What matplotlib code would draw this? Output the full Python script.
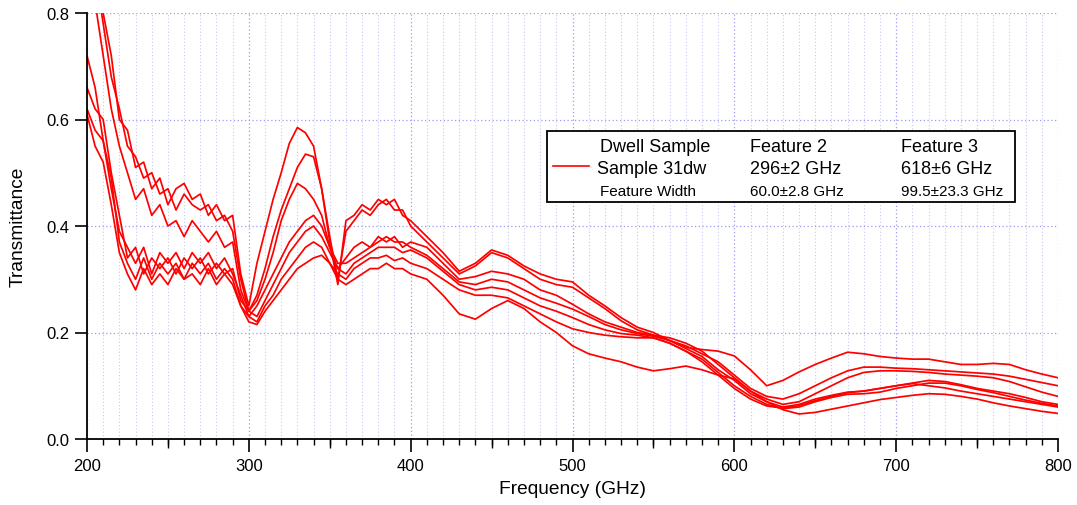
import numpy as np
import matplotlib
matplotlib.use('Agg')
import matplotlib.pyplot as plt
from matplotlib.ticker import MultipleLocator, FormatStrFormatter
from matplotlib.patches import Rectangle
from matplotlib.lines import Line2D

plt.rcParams['font.family'] = ['Liberation Sans', 'DejaVu Sans']

# Frequency grid (GHz): 5 GHz steps up to 400, then 10 GHz steps
freq = np.concatenate([np.arange(200, 401, 5), np.arange(410, 801, 10)])

# Transmittance traces (7 runs of sample 31dw)
run1 = [1.05, 0.93, 0.80, 0.72, 0.60, 0.58, 0.51, 0.52, 0.47, 0.49, 0.44, 0.47, 0.48, 0.45, 0.46, 0.42, 0.44,
        0.41, 0.42, 0.31, 0.25, 0.33, 0.39, 0.45, 0.50, 0.555, 0.585, 0.575, 0.55, 0.47, 0.37, 0.29, 0.41, 0.42,
        0.44, 0.43, 0.45, 0.44, 0.45, 0.42, 0.41,
        0.38, 0.35, 0.315, 0.33, 0.355, 0.345, 0.325, 0.31, 0.30, 0.295, 0.27, 0.25, 0.228, 0.21, 0.20, 0.185,
        0.172, 0.168, 0.165, 0.156, 0.13, 0.10, 0.11, 0.126, 0.14, 0.152, 0.163, 0.16, 0.155, 0.152, 0.15, 0.15,
        0.145, 0.14, 0.14, 0.142, 0.14, 0.13, 0.122, 0.115]
run2 = [0.98, 0.88, 0.78, 0.68, 0.62, 0.55, 0.53, 0.49, 0.50, 0.46, 0.47, 0.43, 0.46, 0.44, 0.43, 0.44, 0.41,
        0.42, 0.39, 0.30, 0.24, 0.27, 0.32, 0.38, 0.43, 0.47, 0.51, 0.535, 0.53, 0.47, 0.38, 0.30, 0.39, 0.41,
        0.43, 0.42, 0.44, 0.45, 0.43, 0.43, 0.40,
        0.37, 0.34, 0.31, 0.325, 0.35, 0.34, 0.32, 0.30, 0.29, 0.285, 0.265, 0.245, 0.222, 0.205, 0.195, 0.185,
        0.175, 0.16, 0.145, 0.12, 0.095, 0.08, 0.075, 0.085, 0.10, 0.115, 0.128, 0.135, 0.135, 0.133, 0.132, 0.13,
        0.128, 0.126, 0.124, 0.122, 0.118, 0.112, 0.106, 0.10]
run3 = [0.90, 0.82, 0.72, 0.62, 0.55, 0.50, 0.45, 0.47, 0.42, 0.44, 0.40, 0.41, 0.38, 0.41, 0.39, 0.37, 0.39,
        0.36, 0.37, 0.28, 0.24, 0.26, 0.30, 0.35, 0.41, 0.45, 0.48, 0.47, 0.45, 0.42, 0.36, 0.32, 0.34, 0.36,
        0.37, 0.36, 0.38, 0.37, 0.38, 0.36, 0.37,
        0.36, 0.33, 0.30, 0.305, 0.315, 0.31, 0.30, 0.28, 0.27, 0.253, 0.235, 0.22, 0.21, 0.20, 0.195, 0.19,
        0.18, 0.165, 0.14, 0.115, 0.09, 0.075, 0.065, 0.07, 0.085, 0.10, 0.115, 0.125, 0.128, 0.128, 0.127, 0.125,
        0.122, 0.12, 0.118, 0.115, 0.108, 0.098, 0.088, 0.08]
run4 = [0.72, 0.66, 0.56, 0.47, 0.39, 0.36, 0.33, 0.36, 0.31, 0.35, 0.33, 0.35, 0.32, 0.35, 0.33, 0.35, 0.32,
        0.34, 0.31, 0.27, 0.23, 0.25, 0.28, 0.31, 0.34, 0.37, 0.39, 0.41, 0.42, 0.40, 0.36, 0.33, 0.33, 0.34,
        0.35, 0.36, 0.37, 0.38, 0.37, 0.37, 0.36,
        0.345, 0.32, 0.295, 0.29, 0.30, 0.295, 0.28, 0.265, 0.255, 0.244, 0.23, 0.215, 0.205, 0.198, 0.193, 0.185,
        0.17, 0.155, 0.13, 0.11, 0.085, 0.07, 0.06, 0.065, 0.075, 0.082, 0.088, 0.09, 0.095, 0.10, 0.105, 0.11,
        0.108, 0.102, 0.095, 0.09, 0.085, 0.078, 0.07, 0.065]
run5 = [0.66, 0.62, 0.60, 0.50, 0.42, 0.34, 0.36, 0.31, 0.34, 0.32, 0.34, 0.31, 0.34, 0.32, 0.34, 0.31, 0.33,
        0.31, 0.32, 0.26, 0.24, 0.23, 0.26, 0.29, 0.32, 0.35, 0.37, 0.39, 0.40, 0.38, 0.35, 0.32, 0.31, 0.33,
        0.34, 0.35, 0.36, 0.36, 0.36, 0.35, 0.355,
        0.34, 0.315, 0.29, 0.28, 0.285, 0.28, 0.265, 0.25, 0.24, 0.228, 0.215, 0.205, 0.198, 0.195, 0.19, 0.18,
        0.165, 0.15, 0.125, 0.10, 0.08, 0.065, 0.057, 0.06, 0.07, 0.078, 0.084, 0.085, 0.088, 0.095, 0.10, 0.105,
        0.105, 0.10, 0.093, 0.087, 0.08, 0.073, 0.067, 0.062]
run6 = [0.62, 0.58, 0.56, 0.49, 0.37, 0.33, 0.30, 0.34, 0.30, 0.33, 0.31, 0.33, 0.30, 0.33, 0.31, 0.33, 0.30,
        0.32, 0.30, 0.25, 0.23, 0.22, 0.25, 0.27, 0.30, 0.32, 0.34, 0.36, 0.37, 0.36, 0.33, 0.31, 0.30, 0.32,
        0.33, 0.34, 0.34, 0.345, 0.335, 0.34, 0.33,
        0.32, 0.30, 0.28, 0.27, 0.27, 0.265, 0.25, 0.235, 0.22, 0.207, 0.20, 0.195, 0.192, 0.19, 0.19, 0.18,
        0.165, 0.145, 0.12, 0.095, 0.075, 0.062, 0.058, 0.063, 0.072, 0.08, 0.087, 0.09, 0.095, 0.10, 0.104, 0.10,
        0.096, 0.09, 0.085, 0.08, 0.075, 0.07, 0.065, 0.06]
run7 = [0.61, 0.55, 0.52, 0.44, 0.35, 0.31, 0.28, 0.32, 0.29, 0.31, 0.29, 0.32, 0.30, 0.31, 0.29, 0.32, 0.29,
        0.31, 0.29, 0.25, 0.22, 0.215, 0.24, 0.26, 0.28, 0.30, 0.32, 0.33, 0.34, 0.345, 0.33, 0.30, 0.29, 0.30,
        0.31, 0.32, 0.32, 0.33, 0.32, 0.32, 0.31,
        0.30, 0.27, 0.235, 0.225, 0.245, 0.26, 0.245, 0.22, 0.20, 0.175, 0.16, 0.152, 0.145, 0.135, 0.128, 0.132,
        0.137, 0.13, 0.12, 0.113, 0.09, 0.07, 0.055, 0.047, 0.05, 0.056, 0.062, 0.068, 0.074, 0.078, 0.082, 0.085,
        0.084, 0.08, 0.075, 0.068, 0.062, 0.057, 0.052, 0.048]
runs = [run1, run2, run3, run4, run5, run6, run7]

header = ['Dwell Sample', 'Feature 2', 'Feature 3']
row_pos = ['Sample 31dw', '296\u00b12 GHz', '618\u00b16 GHz']
row_width = ['Feature Width', '60.0\u00b12.8 GHz', '99.5\u00b123.3 GHz']

W, H = 1077, 506
fig = plt.figure(figsize=(W / 100, H / 100), dpi=100)
ax = fig.add_axes([87 / W, 1 - 440 / H, 971 / W, 426 / H])

for r in runs:
    ax.plot(freq, r, color='#ff0000', lw=1.25)

ax.set_xlim(200, 800)
ax.set_ylim(0, 0.8)

ax.spines['top'].set_visible(False)
ax.spines['right'].set_visible(False)
ax.spines['left'].set_linewidth(1.3)
ax.spines['bottom'].set_linewidth(1.3)

ax.xaxis.set_major_locator(MultipleLocator(100))
ax.xaxis.set_minor_locator(MultipleLocator(10))
ax.yaxis.set_major_locator(MultipleLocator(0.2))
ax.yaxis.set_major_formatter(FormatStrFormatter('%.1f'))
ax.tick_params(axis='x', which='major', length=9, width=1.2, labelsize=12, pad=5)
ax.tick_params(axis='x', which='minor', length=4.5, width=1.0)
ax.tick_params(axis='y', which='major', length=8.5, width=1.2, labelsize=12, pad=4)

# medium ticks at the 50s
sec = ax.secondary_xaxis('bottom')
sec.set_xticks([250, 350, 450, 550, 650, 750])
sec.tick_params(length=6.5, width=1.0, labelbottom=False)
sec.spines['bottom'].set_visible(False)

ax.grid(True, which='minor', axis='x', color='#c8c8f4', linestyle=(0, (1, 2)), lw=0.8)
ax.grid(True, which='major', axis='x', color='#9a9af0', linestyle=(0, (1, 2)), lw=0.9)
ax.grid(True, which='major', axis='y', color='#9a9af0', linestyle=(0, (1, 2)), lw=0.9)
ax.set_axisbelow(True)

ax.set_xlabel('Frequency (GHz)', fontsize=13.8, labelpad=5)
ax.set_ylabel('Transmittance', fontsize=13.8, labelpad=14)


def fx(x):
    return x / W


def fy(y):
    return 1 - y / H


# legend table drawn in figure pixels
fig.patches.append(Rectangle((fx(547), fy(203)), (1015 - 547) / W, (203 - 132) / H,
                             transform=fig.transFigure, facecolor='white', edgecolor='black',
                             lw=1.3, zorder=5))
fig.lines.append(Line2D([fx(553), fx(589)], [fy(167), fy(167)], transform=fig.transFigure,
                        color='#ff0000', lw=1.2, zorder=6))
cols = [600, 750, 901]
for i, c in enumerate(cols):
    fig.text(fx(c if i else 600), fy(152), header[i], fontsize=13, va='baseline', zorder=6)
    fig.text(fx(c if i else 597), fy(174), row_pos[i], fontsize=13, va='baseline', zorder=6)
    fig.text(fx(c), fy(196), row_width[i], fontsize=11, va='baseline', zorder=6)

fig.savefig('out.png', dpi=100)
